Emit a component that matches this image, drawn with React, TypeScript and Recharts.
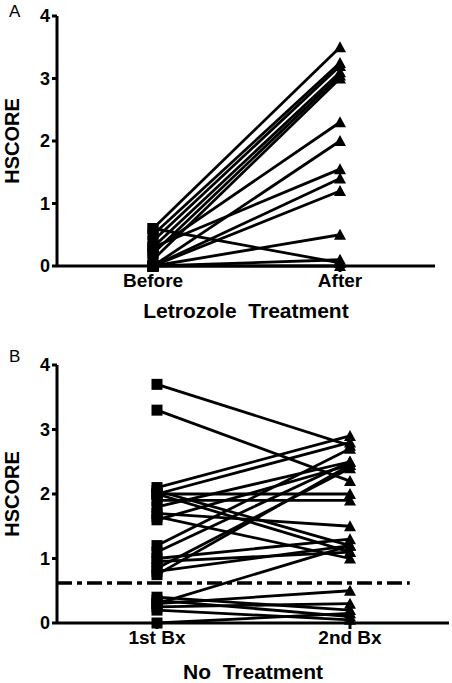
import React from 'react';
import { LineChart, Line, XAxis, YAxis, ReferenceLine } from 'recharts';

// Panel A: letrozole treatment, paired HSCOREs
const categoriesA = ['Before', 'After'];
const beforeA = [0.6, 0.5, 0.4, 0.3, 0.2, 0.1, 0.25, 0.0, 0.3, 0.0, 0.0, 0.0, 0.6, 0.0, 0.0];
const afterA = [3.5, 3.25, 3.2, 3.1, 3.05, 3.0, 2.3, 2.0, 1.55, 1.4, 1.2, 0.5, 0.05, 0.1, 0.0];

// Panel B: no treatment, two biopsies
const categoriesB = ['1st Bx', '2nd Bx'];
const firstB = [3.7, 3.3, 2.1, 2.0, 2.0, 1.9, 2.05, 2.0, 1.8, 1.7, 1.65, 1.6, 1.2, 1.1, 1.0, 0.95, 0.85, 0.8, 0.75, 0.3, 0.4, 0.35, 0.3, 0.25, 0.2, 0.0];
const secondB = [2.75, 2.2, 2.9, 2.8, 2.0, 1.9, 1.2, 1.1, 2.5, 1.5, 1.0, 2.45, 2.7, 2.5, 1.3, 1.1, 2.4, 1.2, 2.45, 1.2, 0.2, 0.1, 0.5, 0.3, 0.05, 0.15];
const thresholdB = 0.62;

const yTicks = [0, 1, 2, 3, 4];
const FONT = '"Liberation Sans", Arial, sans-serif';

function buildRows(cats: string[], first: number[], second: number[]) {
  return cats.map((cat, ci) => {
    const row: Record<string, string | number> = { cat };
    const vals = ci === 0 ? first : second;
    vals.forEach((v, i) => {
      row['p' + i] = v;
    });
    return row;
  });
}

const renderDot = (props: any) => {
  const { cx, cy, index, key } = props;
  if (cx == null || cy == null) return <g key={key} />;
  if (index === 0) {
    return <rect key={key} x={cx - 5.5} y={cy - 5.5} width={11} height={11} fill="#000" />;
  }
  return (
    <path
      key={key}
      d={`M${cx},${cy - 6} L${cx + 6},${cy + 5} L${cx - 6},${cy + 5} Z`}
      fill="#000"
    />
  );
};

interface PanelProps {
  letter: string;
  cats: string[];
  first: number[];
  second: number[];
  title: string;
  width: number;
  height: number;
  top: number;
  marginTop: number;
  marginRight: number;
  padLeft: number;
  padRight: number;
  xAxisHeight: number;
  titleOffset: number;
  letterTop: number;
  threshold?: number;
}

const Panel: React.FC<PanelProps> = ({
  letter, cats, first, second, title, width, height, top, marginTop, marginRight,
  padLeft, padRight, xAxisHeight, titleOffset, letterTop, threshold,
}) => {
  const data = buildRows(cats, first, second);
  return (
    <div style={{ position: 'absolute', left: 0, top, width, height }}>
      <div style={{ position: 'absolute', left: 9, top: letterTop, fontFamily: FONT, fontSize: 17 }}>
        {letter}
      </div>
      <LineChart
        width={width}
        height={height}
        data={data}
        margin={{ top: marginTop, right: marginRight, bottom: 0, left: 0 }}
      >
        <XAxis
          dataKey="cat"
          padding={{ left: padLeft, right: padRight }}
          stroke="#000"
          strokeWidth={3}
          tickSize={6}
          tick={{ fill: '#000', fontSize: 19, fontWeight: 'bold', fontFamily: FONT }}
          height={xAxisHeight}
          label={{ value: title, position: 'insideBottom', offset: titleOffset, fill: '#000', fontSize: 21, fontWeight: 'bold', fontFamily: FONT }}
        />
        <XAxis xAxisId="num" type="number" domain={[0, 1]} hide />
        <YAxis
          domain={[0, 4]}
          ticks={yTicks}
          width={57}
          stroke="#000"
          strokeWidth={3}
          tickSize={5}
          tick={{ fill: '#000', fontSize: 18, fontWeight: 'bold', fontFamily: FONT }}
          label={{ value: 'HSCORE', angle: -90, position: 'insideLeft', offset: 12, fill: '#000', fontSize: 20, fontWeight: 'bold', fontFamily: FONT, style: { textAnchor: 'middle' } }}
        />
        {threshold != null && (
          <ReferenceLine
            xAxisId="num"
            segment={[{ x: 0, y: threshold }, { x: 0.9, y: threshold }]}
            stroke="#000"
            strokeWidth={3.5}
            strokeDasharray="15 5 5 5"
          />
        )}
        {first.map((_, i) => (
          <Line
            key={i}
            type="linear"
            dataKey={'p' + i}
            stroke="#000"
            strokeWidth={2.8}
            dot={renderDot}
            activeDot={false}
            isAnimationActive={false}
          />
        ))}
      </LineChart>
    </div>
  );
};

const App: React.FC = () => (
  <div style={{ position: 'absolute', left: 0, top: 0, width: 452, height: 683, background: '#fff' }}>
    <Panel
      letter="A"
      cats={categoriesA}
      first={beforeA}
      second={afterA}
      title={'Letrozole\u00a0\u00a0Treatment'}
      width={452}
      height={330}
      top={0}
      marginTop={16}
      marginRight={17}
      padLeft={96}
      padRight={95}
      xAxisHeight={64}
      titleOffset={12}
      letterTop={2}
    />
    <Panel
      letter="B"
      cats={categoriesB}
      first={firstB}
      second={secondB}
      title={'No\u00a0\u00a0Treatment'}
      width={452}
      height={353}
      top={330}
      marginTop={35}
      marginRight={3}
      padLeft={100}
      padRight={99}
      xAxisHeight={60}
      titleOffset={4}
      letterTop={17}
      threshold={thresholdB}
    />
  </div>
);

export default App;
